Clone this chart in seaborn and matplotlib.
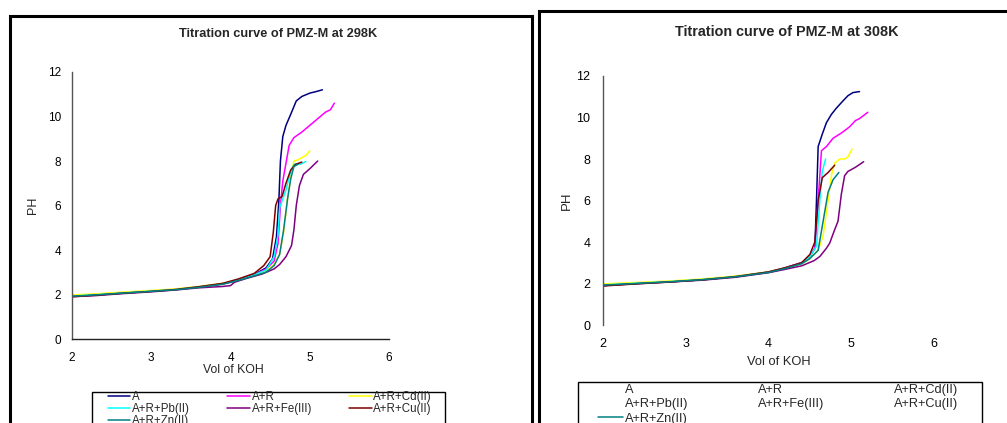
import pandas as pd
import matplotlib.pyplot as plt
import seaborn as sns
from matplotlib.lines import Line2D
from matplotlib.patches import Rectangle

# series names and colours (Excel style palette)
series = ["A", "A+R", "A+R+Cd(II)", "A+R+Pb(II)", "A+R+Fe(III)", "A+R+Cu(II)", "A+R+Zn(II)"]
colors = ["#000080", "#FF00FF", "#FFFF00", "#00FFFF", "#800080", "#800000", "#008080"]

# ---- 298K readings ----
vol_298_a = [2.0, 2.3, 2.6, 3.0, 3.3, 3.6, 3.9, 4.1, 4.3, 4.45, 4.53, 4.58, 4.61, 4.63, 4.66, 4.7, 4.76, 4.83, 4.9, 5.0, 5.08, 5.16]
ph_298_a = [1.92, 1.98, 2.05, 2.15, 2.22, 2.33, 2.47, 2.65, 2.9, 3.2, 3.6, 4.6, 6.2, 8.0, 9.1, 9.6, 10.1, 10.7, 10.9, 11.05, 11.12, 11.2]
vol_298_ar = [2.0, 2.3, 2.6, 3.0, 3.3, 3.6, 3.9, 4.1, 4.3, 4.45, 4.55, 4.6, 4.63, 4.66, 4.7, 4.74, 4.8, 4.9, 5.0, 5.1, 5.2, 5.26, 5.31]
ph_298_ar = [1.95, 2.0, 2.06, 2.15, 2.23, 2.34, 2.48, 2.65, 2.88, 3.15, 3.5, 4.3, 6.0, 7.1, 7.9, 8.7, 9.05, 9.3, 9.6, 9.9, 10.2, 10.3, 10.6]
vol_298_cd = [2.0, 2.3, 2.6, 3.0, 3.3, 3.6, 3.9, 4.1, 4.3, 4.45, 4.55, 4.62, 4.67, 4.72, 4.77, 4.8, 4.85, 4.9, 4.95, 5.0]
ph_298_cd = [1.98, 2.03, 2.1, 2.18, 2.25, 2.36, 2.5, 2.65, 2.85, 3.05, 3.35, 3.8, 4.8, 6.3, 7.5, 8.0, 8.05, 8.15, 8.25, 8.46]
vol_298_pb = [2.0, 2.3, 2.6, 3.0, 3.3, 3.6, 3.9, 4.1, 4.3, 4.45, 4.55, 4.6, 4.62, 4.66, 4.7, 4.75, 4.8, 4.88, 4.95]
ph_298_pb = [1.93, 1.99, 2.06, 2.15, 2.22, 2.34, 2.48, 2.66, 2.88, 3.1, 3.7, 4.7, 5.9, 6.3, 6.7, 7.4, 7.85, 7.85, 7.98]
vol_298_fe = [2.0, 2.3, 2.6, 3.0, 3.3, 3.6, 3.9, 4.0, 4.05, 4.2, 4.4, 4.55, 4.62, 4.7, 4.77, 4.8, 4.83, 4.87, 4.92, 5.0, 5.1]
ph_298_fe = [1.9, 1.95, 2.03, 2.12, 2.2, 2.3, 2.36, 2.4, 2.55, 2.72, 2.92, 3.15, 3.35, 3.7, 4.2, 4.9, 6.0, 6.9, 7.4, 7.65, 8.0]
vol_298_cu = [2.0, 2.3, 2.6, 3.0, 3.3, 3.6, 3.9, 4.1, 4.3, 4.42, 4.5, 4.54, 4.57, 4.6, 4.65, 4.7, 4.76, 4.82, 4.9]
ph_298_cu = [1.9, 1.97, 2.05, 2.14, 2.22, 2.35, 2.5, 2.7, 2.95, 3.3, 3.7, 4.8, 6.0, 6.3, 6.4, 7.0, 7.6, 7.85, 7.95]
vol_298_zn = [2.0, 2.3, 2.6, 3.0, 3.3, 3.6, 3.9, 4.1, 4.3, 4.45, 4.55, 4.62, 4.67, 4.72, 4.76, 4.8, 4.85]
ph_298_zn = [1.92, 1.98, 2.05, 2.14, 2.21, 2.32, 2.46, 2.63, 2.84, 3.0, 3.3, 3.8, 4.9, 6.3, 7.2, 7.75, 7.85]

# ---- 308K readings ----
vol_308_a = [2.0, 2.4, 2.8, 3.2, 3.6, 4.0, 4.2, 4.4, 4.5, 4.56, 4.58, 4.6, 4.65, 4.7, 4.76, 4.82, 4.9, 4.96, 5.02, 5.1]
ph_308_a = [1.9, 2.0, 2.08, 2.18, 2.33, 2.55, 2.75, 3.0, 3.3, 3.7, 6.0, 8.6, 9.2, 9.75, 10.15, 10.45, 10.8, 11.05, 11.2, 11.25]
vol_308_ar = [2.0, 2.4, 2.8, 3.2, 3.6, 4.0, 4.2, 4.4, 4.5, 4.56, 4.6, 4.64, 4.7, 4.78, 4.88, 4.98, 5.05, 5.1, 5.2]
ph_308_ar = [1.92, 2.01, 2.09, 2.19, 2.33, 2.55, 2.75, 3.0, 3.3, 3.7, 6.0, 8.4, 8.6, 9.0, 9.25, 9.55, 9.85, 9.95, 10.25]
vol_308_cd = [2.0, 2.4, 2.8, 3.2, 3.6, 4.0, 4.2, 4.4, 4.5, 4.6, 4.66, 4.72, 4.76, 4.8, 4.86, 4.92, 4.96, 5.01]
ph_308_cd = [1.98, 2.05, 2.12, 2.22, 2.36, 2.56, 2.74, 2.95, 3.2, 3.6, 4.3, 6.0, 7.2, 7.8, 8.0, 8.0, 8.1, 8.48]
vol_308_pb = [2.0, 2.4, 2.8, 3.2, 3.6, 4.0, 4.2, 4.4, 4.5, 4.58, 4.62, 4.65, 4.69]
ph_308_pb = [1.93, 2.01, 2.09, 2.19, 2.33, 2.55, 2.74, 2.98, 3.3, 3.8, 6.0, 7.4, 8.0]
vol_308_fe = [2.0, 2.4, 2.8, 3.2, 3.6, 4.0, 4.2, 4.4, 4.55, 4.62, 4.7, 4.74, 4.8, 4.84, 4.88, 4.92, 4.96, 5.05, 5.15]
ph_308_fe = [1.9, 1.99, 2.07, 2.16, 2.3, 2.52, 2.68, 2.85, 3.1, 3.3, 3.7, 3.95, 4.6, 5.0, 6.3, 7.2, 7.4, 7.6, 7.87]
vol_308_cu = [2.0, 2.4, 2.8, 3.2, 3.6, 4.0, 4.2, 4.4, 4.5, 4.56, 4.6, 4.65, 4.72, 4.8]
ph_308_cu = [1.88, 1.98, 2.07, 2.18, 2.33, 2.56, 2.76, 3.0, 3.4, 4.0, 6.0, 7.1, 7.35, 7.7]
vol_308_zn = [2.0, 2.4, 2.8, 3.2, 3.6, 4.0, 4.2, 4.4, 4.5, 4.6, 4.66, 4.72, 4.78, 4.85]
ph_308_zn = [1.92, 2.0, 2.08, 2.18, 2.32, 2.53, 2.72, 2.95, 3.2, 3.6, 5.0, 6.4, 7.0, 7.35]

panels = [
    ("Titration curve of PMZ-M at 298K",
     [vol_298_a, vol_298_ar, vol_298_cd, vol_298_pb, vol_298_fe, vol_298_cu, vol_298_zn],
     [ph_298_a, ph_298_ar, ph_298_cd, ph_298_pb, ph_298_fe, ph_298_cu, ph_298_zn]),
    ("Titration curve of PMZ-M at 308K",
     [vol_308_a, vol_308_ar, vol_308_cd, vol_308_pb, vol_308_fe, vol_308_cu, vol_308_zn],
     [ph_308_a, ph_308_ar, ph_308_cd, ph_308_pb, ph_308_fe, ph_308_cu, ph_308_zn]),
]

sns.set_style("white")
plt.rcParams["font.family"] = ["Liberation Sans", "DejaVu Sans"]

W, H = 1007, 423
fig = plt.figure(figsize=(W / 100, H / 100), dpi=100)

def fx(px):
    return px / W

def fy(py):
    return 1 - py / H

def box(x0, y0, x1, y1, lw):
    fig.patches.append(Rectangle((fx(x0), fy(y1)), fx(x1) - fx(x0), fy(y0) - fy(y1),
                                 transform=fig.transFigure, fill=False, edgecolor="black", linewidth=lw))

# outer chart frames
box(10, 16, 532, 470, 2.2)
box(539, 11, 1060, 470, 2.2)

# pixel layout of each panel
layout = [
    dict(ax=(72, 389, 72, 339), title=(278, 34), xlabel=(233, 370), ylabel=33,
         frame=(92, 392, 445), leg=(108, 432, 391), legsize=8.3, rowgap=0.0,
         show_handles=True, xspine=True, ticksize=8.5, titlesize=9.2),
    dict(ax=(603, 934, 76, 325), title=(787, 32), xlabel=(779, 362), ylabel=567,
         frame=(578, 382, 982), leg=(598, 958, 384), legsize=9.2, rowgap=0.18,
         show_handles=False, xspine=False, ticksize=9, titlesize=10.4),
]

palette = dict(zip(series, colors))
# row-wise legend order for matplotlib's column-wise filling (3 columns)
leg_order = [0, 3, 6, 1, 4, 2, 5]

for (title, vols, phs), lay in zip(panels, layout):
    x0, x1, y0, y1 = lay["ax"]
    ax = fig.add_axes([fx(x0), fy(y1), fx(x1) - fx(x0), fy(y0) - fy(y1)])
    frames = []
    for name, v, p in zip(series, vols, phs):
        frames.append(pd.DataFrame({"Vol": v, "PH": p, "Series": name}))
    df = pd.concat(frames, ignore_index=True)
    sns.lineplot(data=df, x="Vol", y="PH", hue="Series", palette=palette, sort=False,
                 estimator=None, linewidth=1.1, legend=False, ax=ax)
    ax.set_xlim(2, 6)
    ax.set_ylim(0, 12)
    ax.set_xticks([2, 3, 4, 5, 6])
    ax.set_yticks([0, 2, 4, 6, 8, 10, 12])
    ax.set_xlabel("")
    ax.set_ylabel("")
    for s in ["top", "right"]:
        ax.spines[s].set_visible(False)
    ax.spines["left"].set_color("#555555")
    ax.spines["left"].set_linewidth(1.0)
    ax.spines["bottom"].set_color("#222222")
    ax.spines["bottom"].set_linewidth(1.0)
    if not lay["xspine"]:
        ax.spines["bottom"].set_visible(False)
    ax.tick_params(axis="x", labelsize=lay["ticksize"], labelcolor="black", color="#666666",
                   direction="out", length=3, width=0.8, pad=6)
    ax.tick_params(axis="y", labelsize=lay["ticksize"], labelcolor="black", color="#555555",
                   direction="out", length=3 if lay["xspine"] else 0, width=0.8,
                   pad=5 if lay["xspine"] else 9)
    ax.patch.set_alpha(0)

    fig.text(fx(lay["title"][0]), fy(lay["title"][1]), title, ha="center", va="center",
             fontsize=lay["titlesize"], fontweight="bold")
    fig.text(fx(lay["xlabel"][0]), fy(lay["xlabel"][1]), "Vol of KOH", ha="center", va="center",
             fontsize=lay["ticksize"] + 0.3)
    fig.text(fx(lay["ylabel"]), fy((y0 + y1) / 2), "PH", ha="center", va="center", rotation=90,
             fontsize=lay["ticksize"] + 0.5)

    # legend frame runs off the bottom of the picture
    fx0, fy0, fx1 = lay["frame"]
    box(fx0, fy0, fx1, 470, 1.0)

    handles = []
    labels = []
    for i in leg_order:
        visible = lay["show_handles"] or i == len(colors) - 1
        handles.append(Line2D([0], [0], color=colors[i], linewidth=1.1 if visible else 0))
        labels.append(series[i])
    lx0, lx1, ly0 = lay["leg"]
    fig.legend(handles, labels, loc="upper left", ncol=3, mode="expand",
               bbox_to_anchor=(fx(lx0), fy(ly0) - 0.3, fx(lx1) - fx(lx0), 0.3),
               fontsize=lay["legsize"], frameon=False, borderpad=0,
               labelspacing=lay["rowgap"], handlelength=1.95, handletextpad=0.15, borderaxespad=0)

plt.savefig("out.png", dpi=100)
